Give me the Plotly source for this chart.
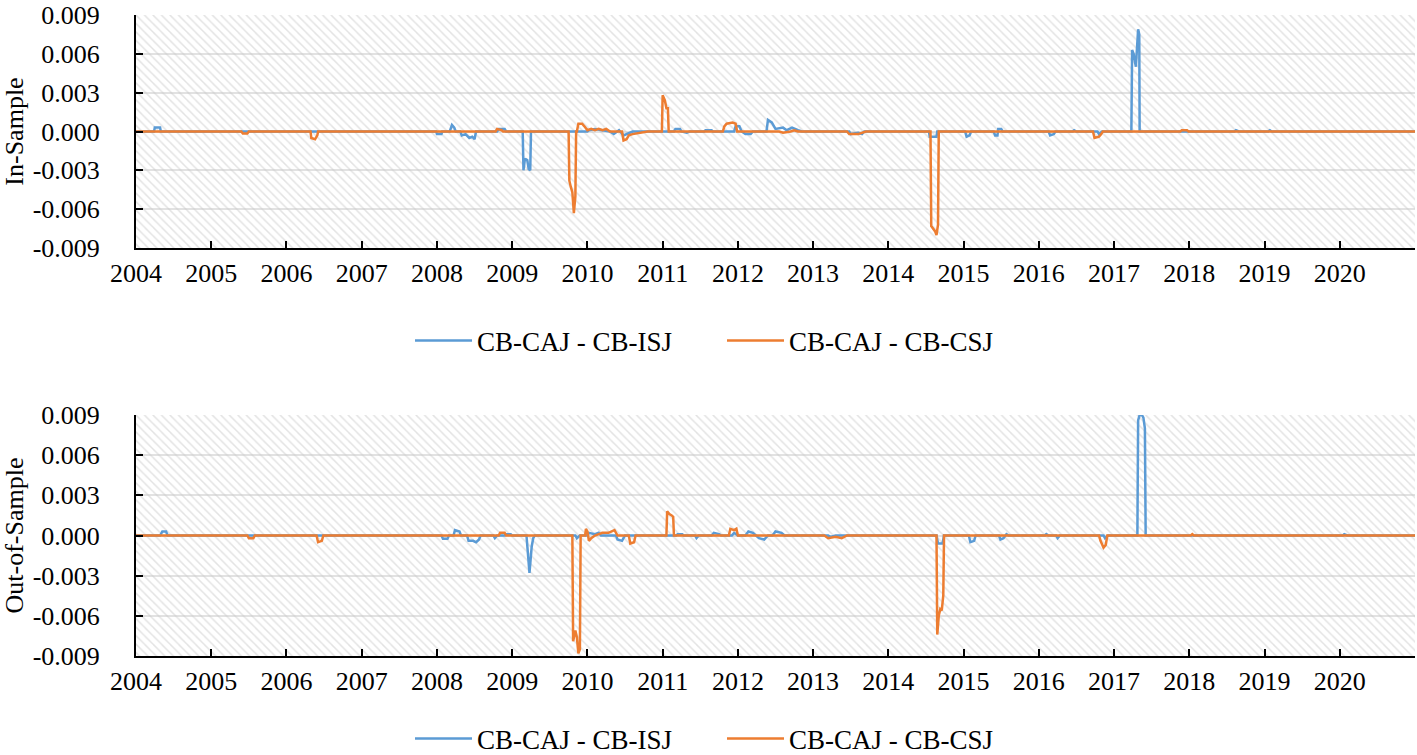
import plotly.graph_objects as go

# ---------------- data (fractional year, value) ----------------
SERIES_NAMES = ["CB-CAJ - CB-ISJ", "CB-CAJ - CB-CSJ"]
PANEL_TITLES = ["In-Sample", "Out-of-Sample"]

X_RANGE = [2004, 2021]
Y_RANGE = [-0.009, 0.009]
X_TICKS = list(range(2004, 2022))
X_TICKTEXT = [str(y) if y <= 2020 else "" for y in X_TICKS]
Y_TICKS = [-0.009, -0.006, -0.003, 0.0, 0.003, 0.006, 0.009]
Y_TICKTEXT = ["-0.009", "-0.006", "-0.003", "0.000", "0.003", "0.006", "0.009"]

# In-sample, CB-CAJ - CB-ISJ
in_isj_x = [2004.0, 2004.24, 2004.25, 2004.32, 2004.33, 2007.45, 2007.5, 2007.6,
            2007.99, 2008.0, 2008.06, 2008.07, 2008.17, 2008.2, 2008.23, 2008.25,
            2008.31, 2008.33, 2008.38, 2008.43, 2008.47, 2008.5, 2008.52,
            2008.8, 2008.82, 2008.9, 2008.92,
            2009.14, 2009.15, 2009.17, 2009.2, 2009.22, 2009.24, 2009.25,
            2010.0, 2010.02, 2010.1, 2010.2, 2010.3, 2010.35, 2010.42, 2010.48, 2010.55, 2010.6,
            2011.15, 2011.17, 2011.23, 2011.25, 2011.32, 2011.36, 2011.55, 2011.57, 2011.65, 2011.67,
            2011.95, 2011.97, 2012.02, 2012.05, 2012.1, 2012.17, 2012.2,
            2012.38, 2012.4, 2012.45, 2012.5, 2012.6, 2012.65, 2012.72, 2012.8, 2012.85,
            2013.48, 2013.5, 2013.6, 2013.65, 2013.68,
            2014.54, 2014.55, 2014.64, 2014.65,
            2015.02, 2015.04, 2015.08, 2015.1,
            2015.4, 2015.42, 2015.45, 2015.46, 2015.5, 2015.52,
            2016.13, 2016.15, 2016.2, 2016.22, 2016.45, 2016.47, 2016.5,
            2016.78, 2016.8, 2016.84,
            2017.23, 2017.24, 2017.26, 2017.29, 2017.32, 2017.335, 2017.34,
            2018.6, 2018.62, 2018.66, 2019.05, 2019.07, 2019.1, 2021.0]
in_isj_y = [0, 0, 0.0003, 0.0003, 0, 0, 0.00005, 0,
            0, -0.0002, -0.0002, 0, 0, 0.0005, 0.0003, 0,
            0, -0.0003, -0.0002, -0.0005, -0.0004, -0.0006, 0,
            0, 0.0002, 0.0002, 0,
            0, -0.003, -0.0021, -0.0022, -0.0029, -0.003, 0,
            0, 0.0001, 0.0002, 0.0001, 0, -0.0002, 0.0001, -0.0003, -0.0001, 0,
            0, 0.0002, 0.0002, 0, -0.0001, 0, 0, 0.0001, 0.0001, 0,
            0, 0.0004, 0.0004, 0, -0.0002, -0.0002, 0,
            0, 0.0009, 0.0007, 0.0002, 0.0003, 0.0001, 0.0003, 0.0001, 0,
            0, -0.0002, -0.0001, -0.0002, 0,
            0, -0.0004, -0.0004, 0,
            0, -0.0004, -0.0003, 0,
            0, -0.0003, -0.0003, 0.0002, 0.0002, 0,
            0, -0.0003, -0.0002, 0, 0, 0.0001, 0,
            0, -0.0002, 0,
            0, 0.0063, 0.006, 0.005, 0.0079, 0.0075, 0,
            0, 0.0001, 0, 0, 0.0001, 0, 0]

# In-sample, CB-CAJ - CB-CSJ
in_csj_x = [2004.0, 2005.4, 2005.42, 2005.48, 2005.5,
            2006.32, 2006.33, 2006.38, 2006.41, 2006.42,
            2008.78, 2008.8, 2008.86, 2008.88,
            2009.75, 2009.76, 2009.78, 2009.8, 2009.82, 2009.84, 2009.85,
            2009.86, 2009.88, 2009.93, 2009.96, 2010.0, 2010.05, 2010.1, 2010.15, 2010.2, 2010.25, 2010.3,
            2010.46, 2010.48, 2010.52, 2010.55, 2010.6, 2010.7, 2010.8,
            2010.99, 2011.0, 2011.03, 2011.05, 2011.07, 2011.08,
            2011.8, 2011.82, 2011.85, 2011.93, 2011.97, 2011.99,
            2012.55, 2012.6, 2012.7, 2012.75, 2012.8,
            2013.45, 2013.48, 2013.6, 2013.7,
            2014.56, 2014.57, 2014.6, 2014.62, 2014.64, 2014.66, 2014.67,
            2016.72, 2016.74, 2016.8, 2016.83, 2016.85,
            2017.88, 2017.9, 2017.97, 2017.99, 2021.0]
in_csj_y = [0, 0, -0.00015, -0.00015, 0,
            0, -0.0005, -0.0006, -0.0003, 0,
            0, 0.0002, 0.0001, 0,
            0, -0.0038, -0.0043, -0.0047, -0.0063, -0.005, 0,
            0, 0.0006, 0.0006, 0.0004, 0.0001, 0.0002, 0.0001, 0.0002, 0.0001, 0.0002, 0,
            0, -0.0007, -0.0006, -0.0003, -0.0002, -0.0001, 0,
            0, 0.0028, 0.0024, 0.0018, 0.0018, 0,
            0, 0.0004, 0.0006, 0.0007, 0.0006, 0,
            0, -0.0001, 0, 0.0001, 0,
            0, -0.0002, -0.0002, 0,
            0, -0.0073, -0.0075, -0.0077, -0.008, -0.0072, 0,
            0, -0.0005, -0.0004, -0.0002, 0,
            0, 0.0001, 0.0001, 0, 0]

# Out-of-sample, CB-CAJ - CB-ISJ
out_isj_x = [2004.0, 2004.32, 2004.35, 2004.4, 2004.42,
             2008.06, 2008.08, 2008.14, 2008.16, 2008.22, 2008.24, 2008.3, 2008.32,
             2008.4, 2008.42, 2008.48, 2008.52, 2008.56, 2008.58,
             2008.75, 2008.77, 2008.8, 2008.9, 2008.92, 2008.98, 2009.0,
             2009.19, 2009.23, 2009.26, 2009.28, 2009.3,
             2009.84, 2009.86, 2009.9,
             2010.0, 2010.02, 2010.1, 2010.15, 2010.18,
             2010.38, 2010.4, 2010.46, 2010.5,
             2011.18, 2011.2, 2011.26, 2011.28, 2011.43, 2011.45, 2011.48,
             2011.65, 2011.68, 2011.75, 2011.78, 2011.92, 2011.95, 2012.0,
             2012.1, 2012.14, 2012.2, 2012.28, 2012.35, 2012.4,
             2012.46, 2012.5, 2012.58, 2012.62, 2013.2, 2013.23, 2013.3,
             2014.64, 2014.66, 2014.72, 2014.74,
             2015.07, 2015.09, 2015.14, 2015.16,
             2015.47, 2015.49, 2015.53, 2015.57, 2015.6,
             2016.08, 2016.1, 2016.13, 2016.23, 2016.25, 2016.28,
             2016.86, 2016.88, 2016.92,
             2017.31, 2017.32, 2017.34, 2017.37, 2017.39, 2017.4, 2017.41, 2017.42,
             2020.04, 2020.06, 2020.1, 2021.0]
out_isj_y = [0, 0, 0.0003, 0.0003, 0,
             0, -0.00025, -0.00025, 0, 0, 0.0004, 0.0003, 0,
             0, -0.0004, -0.0004, -0.0005, -0.0003, 0,
             0, -0.0002, 0, 0, 0.0001, 0.0001, 0,
             0, -0.0028, -0.0008, -0.0002, 0,
             0, -0.0002, 0,
             0, 0.0002, 0.0001, 0.0002, 0,
             0, -0.0003, -0.0004, 0,
             0, 0.0001, 0.0001, 0, 0, -0.0002, 0,
             0, 0.0002, 0.0001, 0, 0, 0.0002, 0,
             0, 0.0003, 0.0002, -0.0002, -0.0003, 0,
             0, 0.0003, 0.0002, 0, 0, -0.0001, 0,
             0, -0.0006, -0.0006, 0,
             0, -0.0005, -0.0004, 0,
             0, -0.0003, -0.0002, 0.0001, 0,
             0, 0.0001, 0, 0, -0.0002, 0,
             0, -0.0002, 0,
             0, 0.0086, 0.009, 0.009, 0.0088, 0.0081, 0.008, 0,
             0, 0.0001, 0, 0]

# Out-of-sample, CB-CAJ - CB-CSJ
out_csj_x = [2004.0, 2005.48, 2005.5, 2005.56, 2005.58,
             2006.4, 2006.42, 2006.47, 2006.49,
             2008.82, 2008.84, 2008.9, 2008.92,
             2009.8, 2009.81, 2009.84, 2009.86, 2009.88, 2009.9, 2009.91,
             2009.97, 2009.98, 2010.0, 2010.02, 2010.05, 2010.1, 2010.15, 2010.2, 2010.28, 2010.32, 2010.36, 2010.4,
             2010.55, 2010.57, 2010.62, 2010.64,
             2011.05, 2011.06, 2011.09, 2011.12, 2011.14, 2011.15,
             2011.88, 2011.9, 2011.95, 2011.98, 2012.0,
             2013.15, 2013.2, 2013.3, 2013.38, 2013.45,
             2014.64, 2014.65, 2014.67, 2014.69, 2014.71, 2014.73, 2014.74,
             2016.8, 2016.82, 2016.86, 2016.89, 2016.91,
             2018.02, 2018.04, 2018.06, 2021.0]
out_csj_y = [0, 0, -0.0002, -0.0002, 0,
             0, -0.0005, -0.0004, 0,
             0, 0.0002, 0.0002, 0,
             0, -0.0079, -0.0071, -0.0076, -0.0088, -0.0085, 0,
             0, 0.0005, 0.0003, -0.0004, -0.0002, 0, 0.0001, 0.0002, 0.0002, 0.0003, 0.0004, 0,
             0, -0.0006, -0.0005, 0,
             0, 0.0018, 0.0016, 0.0015, 0.0014, 0,
             0, 0.0005, 0.0004, 0.0005, 0,
             0, -0.0002, -0.0001, -0.0002, 0,
             0, -0.0074, -0.006, -0.0055, -0.0056, -0.0045, 0,
             0, -0.0004, -0.0009, -0.0007, 0,
             0, 0.0001, 0, 0]

panels = [
    [(in_isj_x, in_isj_y), (in_csj_x, in_csj_y)],
    [(out_isj_x, out_isj_y), (out_csj_x, out_csj_y)],
]

COLORS = ["#5B9BD5", "#ED7D31"]
FONT = "Liberation Serif"
FS = 26
LFS = 27

fig = go.Figure()

axis_ids = [("x", "y"), ("x2", "y2")]
legend_ids = ["legend", "legend2"]

for p, (xa, ya) in enumerate(axis_ids):
    # hatched plot-area background
    fig.add_trace(go.Scatter(
        x=[X_RANGE[0], X_RANGE[1], X_RANGE[1], X_RANGE[0], X_RANGE[0]],
        y=[Y_RANGE[0], Y_RANGE[0], Y_RANGE[1], Y_RANGE[1], Y_RANGE[0]],
        xaxis=xa, yaxis=ya, mode="lines", line=dict(width=0),
        fill="toself", fillcolor="rgba(0,0,0,0)",
        fillpattern=dict(shape="\\", fgcolor="#c8c8c8", bgcolor="rgba(0,0,0,0)",
                         size=6, solidity=0.25),
        hoverinfo="skip", showlegend=False))
    for s, (xs, ys) in enumerate(panels[p]):
        fig.add_trace(go.Scatter(
            x=xs, y=ys, xaxis=xa, yaxis=ya, mode="lines",
            name=SERIES_NAMES[s], line=dict(color=COLORS[s], width=2.5),
            legend=legend_ids[p]))

xaxis_common = dict(range=X_RANGE, tickmode="array", tickvals=X_TICKS, ticktext=X_TICKTEXT,
                    ticks="inside", ticklen=7, tickwidth=2, tickcolor="black",
                    showline=True, linecolor="black", linewidth=2, showgrid=False,
                    zeroline=False, ticklabelstandoff=1, automargin=False,
                    ticklabeloverflow="allow",
                    tickfont=dict(family=FONT, size=FS, color="black"))
yaxis_common = dict(range=Y_RANGE, tickmode="array", tickvals=Y_TICKS, ticktext=Y_TICKTEXT,
                    ticks="inside", ticklen=7, tickwidth=2, tickcolor="black",
                    showline=True, linecolor="black", linewidth=2,
                    showgrid=True, gridcolor="#e2e2e2", gridwidth=2,
                    zeroline=False, ticklabelstandoff=29, automargin=False,
                    ticklabeloverflow="allow",
                    tickfont=dict(family=FONT, size=FS, color="black"))

H = 755
T, B = 15, 99
ph = H - T - B

def frac(py):
    return (H - B - py) / ph

legend_common = dict(orientation="h", x=(410 - 136) / 1279, xanchor="left", yanchor="middle",
                     font=dict(family=FONT, size=LFS, color="black"), bgcolor="rgba(0,0,0,0)",
                     itemwidth=57, entrywidth=240)

fig.update_layout(
    width=1417, height=H,
    margin=dict(l=136, r=2, t=T, b=B, autoexpand=False),
    paper_bgcolor="white", plot_bgcolor="white",
    font=dict(family=FONT, size=FS, color="black"),
    xaxis=dict(xaxis_common, domain=[0, 1], anchor="y"),
    yaxis=dict(yaxis_common, domain=[frac(248), 1], anchor="x",
               title=dict(text=PANEL_TITLES[0], standoff=8,
                          font=dict(family=FONT, size=FS, color="black"))),
    xaxis2=dict(xaxis_common, domain=[0, 1], anchor="y2"),
    yaxis2=dict(yaxis_common, domain=[0, frac(415)], anchor="x2",
                title=dict(text=PANEL_TITLES[1], standoff=8,
                           font=dict(family=FONT, size=FS, color="black"))),
    legend=dict(legend_common, y=frac(341)),
    legend2=dict(legend_common, y=frac(739)),
    showlegend=True,
)

fig.write_html("out.html", config={"displayModeBar": False},
               post_script="document.body.style.margin='0';document.body.style.overflow='hidden';")
